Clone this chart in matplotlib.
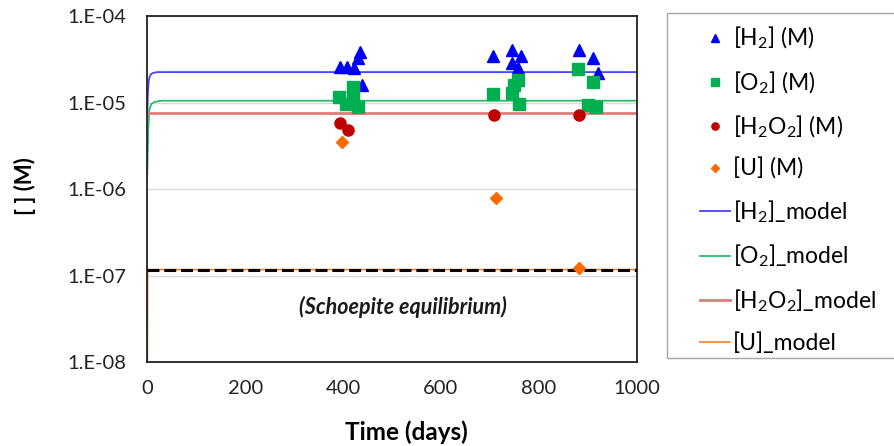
import matplotlib
matplotlib.use("Agg")
import matplotlib.pyplot as plt
import matplotlib.patches as patches
import numpy as np

plt.rcParams["font.family"] = ["Lato", "DejaVu Sans"]
plt.rcParams["mathtext.fontset"] = "custom"
plt.rcParams["mathtext.rm"] = "Lato"
plt.rcParams["mathtext.it"] = "Lato:italic"
plt.rcParams["mathtext.bf"] = "Lato:bold"

# measured points (days, M)
h2_days = [393, 409, 423, 430, 435, 439, 707, 745, 746, 757, 764, 882, 910, 920]
h2_conc = [2.6e-5, 2.6e-5, 2.5e-5, 3.27e-5, 3.86e-5, 1.6e-5, 3.47e-5, 4.05e-5, 2.84e-5, 2.48e-5, 3.47e-5,
           4.05e-5, 3.3e-5, 2.18e-5]
o2_days = [391, 405, 421, 421, 431, 707, 745, 749, 757, 760, 880, 900, 910, 917]
o2_conc = [1.17e-5, 9.5e-6, 1.52e-5, 1.2e-5, 8.95e-6, 1.24e-5, 1.3e-5, 1.6e-5, 1.8e-5, 9.6e-6, 2.42e-5,
           9.3e-6, 1.74e-5, 8.9e-6]
h2o2_days = [394, 411, 709, 883]
h2o2_conc = [5.75e-6, 4.8e-6, 7.2e-6, 7.2e-6]
u_days = [397, 713, 883]
u_conc = [3.5e-6, 7.8e-7, 1.21e-7]

# model curves
h2_model_t = [0, 1, 2, 3, 5, 8, 12, 20, 1000]
h2_model_c = [7.5e-6, 1.2e-5, 1.55e-5, 1.8e-5, 2.02e-5, 2.14e-5, 2.2e-5, 2.25e-5, 2.25e-5]
o2_model_t = [0, 1, 2, 4, 8, 15, 30, 1000]
o2_model_c = [1.5e-6, 3e-6, 5e-6, 8.2e-6, 9.6e-6, 1.02e-5, 1.05e-5, 1.05e-5]
h2o2_model_t = [0, 1000]
h2o2_model_c = [7.6e-6, 7.6e-6]
u_model_t = [0, 0.5, 1000]
u_model_c = [1e-8, 1.17e-7, 1.17e-7]

schoepite_eq = 1.17e-7

fig = plt.figure(figsize=(8.94, 4.46), dpi=100)
ax = fig.add_axes([0.1648, 0.1883, 0.5474, 0.7757])

ax.plot(h2_model_t, h2_model_c, color="#4545FF", lw=1.3, label="[H$_2$]_model", zorder=2)
ax.plot(o2_model_t, o2_model_c, color="#2DB86E", lw=1.3, label="[O$_2$]_model", zorder=2)
ax.plot(h2o2_model_t, h2o2_model_c, color="#E07C7C", lw=2.0, label="[H$_2$O$_2$]_model", zorder=2)
ax.plot(u_model_t, u_model_c, color="#F58A3C", lw=1.3, label="[U]_model", zorder=2)
eq_line, = ax.plot([0, 1000], [schoepite_eq, schoepite_eq], color="black", lw=2.2, zorder=3)
eq_line.set_dashes((3.9, 1.6))

ax.plot(h2_days, h2_conc, "^", color="#0000F5", ms=9, ls="none", label="[H$_2$] (M)", zorder=4)
ax.plot(o2_days, o2_conc, "s", color="#00B050", ms=8.5, ls="none", label="[O$_2$] (M)", zorder=4)
ax.plot(h2o2_days, h2o2_conc, "o", color="#C00000", ms=8, ls="none", label="[H$_2$O$_2$] (M)", zorder=4)
ax.plot(u_days, u_conc, "D", color="#FF6A00", ms=6, ls="none", label="[U] (M)", zorder=4)

ax.text(522, 4.3e-8, "(Schoepite equilibrium)", ha="center", va="center",
        fontsize=15.5, fontstyle="italic", fontweight="bold", color="#1a1a1a")

ax.set_yscale("log")
ax.set_ylim(1e-8, 1e-4)
ax.set_xlim(0, 1000)
ax.set_yticks([1e-8, 1e-7, 1e-6, 1e-5, 1e-4])
ax.set_yticklabels(["1.E-08", "1.E-07", "1.E-06", "1.E-05", "1.E-04"])
ax.yaxis.set_minor_locator(matplotlib.ticker.NullLocator())
ax.set_xticks(np.arange(0, 1001, 200))
ax.tick_params(length=0, labelsize=14.5, colors="#222222")
ax.tick_params(axis="y", pad=15)
ax.tick_params(axis="x", pad=13)
ax.grid(axis="y", color="#d9d9d9", lw=1)
ax.set_axisbelow(True)
for sp in ax.spines.values():
    sp.set_color("#222222")
    sp.set_linewidth(1.3)

ax.set_xlabel("Time (days)", fontsize=17.5, fontweight="bold", va="center")
ax.xaxis.set_label_coords(0.53, -0.2023)
ax.set_ylabel("[ ] (M)", fontsize=16, fontweight="bold", va="center")
ax.yaxis.set_label_coords(-0.25, 0.51)

# legend frame runs off the right edge of the image
frame = patches.Rectangle((667 / 894, 1 - 358 / 446), 0.5, 345 / 446, transform=fig.transFigure,
                          facecolor="white", edgecolor="#a6a6a6", lw=1.0, zorder=0)
fig.patches.append(frame)

handles, labels = ax.get_legend_handles_labels()
order = [4, 5, 6, 7, 0, 1, 2, 3]
leg = fig.legend([handles[i] for i in order], [labels[i] for i in order],
                 loc="upper left", bbox_to_anchor=(700 / 894, 1 - 25 / 446),
                 fontsize=16.5, labelspacing=0.79, markerscale=0.65,
                 handlelength=1.3, handletextpad=0.15, borderpad=0, borderaxespad=0,
                 frameon=False)

fig.savefig("out.png", dpi=100)
